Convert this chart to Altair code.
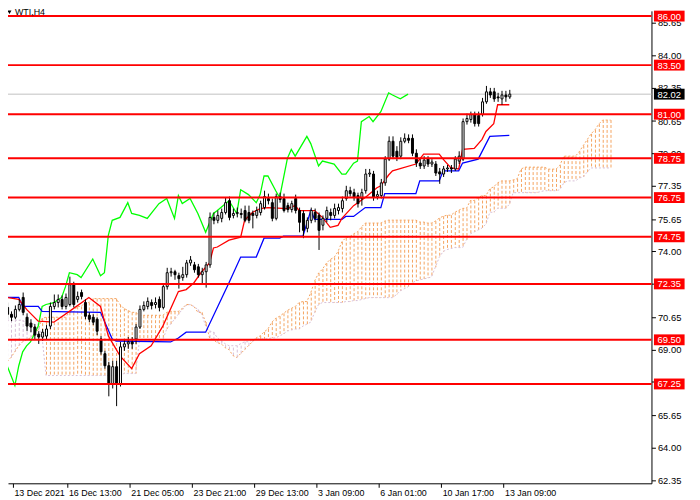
import pandas as pd
import altair as alt

# WTI H4 candles, bar 0 = first bar on the left (13 Dec 2021)
opens = [
    71.15, 70.80, 70.65, 71.05, 71.66, 70.65, 70.35, 70.15, 69.79, 69.64,
    69.69, 70.20, 71.20, 71.40, 71.56, 71.20, 71.30, 72.31, 71.56, 71.91,
    71.40, 70.75, 70.65, 70.55, 69.54, 68.79, 68.18, 67.27, 68.13, 67.27,
    69.14, 69.29, 69.39, 69.54, 70.15, 71.05, 71.20, 71.40, 71.30, 71.56,
    71.15, 72.21, 72.92, 72.97, 72.77, 72.67, 72.82, 73.42, 73.32, 73.22,
    72.82, 72.97, 73.32, 75.74, 75.59, 75.69, 75.99, 76.59, 75.84, 75.94,
    75.94, 76.09, 75.99, 75.94, 75.84, 75.99, 76.24, 76.70, 76.49, 75.69,
    76.80, 76.70, 76.34, 76.14, 76.70, 76.09, 75.94, 75.18, 75.59, 75.99,
    75.84, 75.34, 75.69, 75.99, 75.84, 76.09, 76.19, 76.70, 77.10, 77.00,
    76.85, 76.70, 77.10, 77.95, 77.95, 76.80, 76.85, 77.50, 78.71, 79.62,
    79.11, 78.86, 79.62, 79.77, 79.77, 79.01, 78.51, 78.36, 78.71, 78.46,
    78.46, 78.06, 77.95, 78.21, 78.26, 78.21, 78.61, 78.71, 80.62, 80.73,
    80.98, 80.93, 80.98, 81.63, 82.14, 82.14, 81.88, 81.78, 81.98, 81.88,
]
highs = [
    71.40, 70.95, 71.25, 71.56, 71.91, 70.85, 70.55, 70.30, 69.94, 70.05,
    70.25, 71.40, 71.81, 71.81, 71.76, 71.86, 72.72, 72.46, 71.96, 72.06,
    71.56, 70.90, 70.80, 70.65, 69.69, 68.94, 68.38, 68.43, 68.43, 69.39,
    69.54, 69.64, 69.64, 70.30, 71.25, 71.46, 71.66, 71.56, 71.66, 71.71,
    72.36, 73.17, 73.17, 73.07, 72.92, 73.22, 73.57, 73.77, 73.47, 73.37,
    73.17, 73.47, 75.99, 75.99, 76.09, 76.19, 76.75, 76.80, 76.19, 76.24,
    76.19, 76.34, 76.34, 76.09, 76.29, 76.59, 77.10, 76.95, 76.70, 76.95,
    77.00, 76.95, 76.49, 76.59, 76.90, 76.24, 76.09, 75.74, 76.24, 76.19,
    75.99, 75.84, 76.29, 76.19, 76.44, 76.44, 76.80, 77.35, 77.30, 77.20,
    77.00, 77.20, 78.21, 78.21, 78.11, 77.10, 77.70, 78.86, 79.87, 79.87,
    79.37, 79.82, 80.02, 79.97, 79.97, 79.21, 78.71, 78.86, 78.86, 78.71,
    78.61, 78.26, 78.36, 78.41, 78.41, 78.86, 79.11, 80.78, 81.03, 81.13,
    81.13, 81.13, 81.83, 82.44, 82.34, 82.34, 82.09, 82.19, 82.19, 82.24,
]
lows = [
    70.55, 70.45, 70.55, 70.95, 70.75, 69.94, 69.89, 69.54, 69.29, 69.44,
    69.54, 70.05, 71.05, 71.15, 71.05, 71.05, 71.20, 71.15, 71.40, 71.56,
    70.55, 70.40, 70.25, 69.74, 68.74, 68.03, 66.62, 67.02, 66.12, 67.12,
    68.94, 69.04, 69.04, 69.29, 70.05, 70.95, 71.05, 71.05, 71.10, 70.95,
    71.05, 72.06, 72.72, 72.56, 72.11, 72.51, 72.67, 73.27, 72.92, 72.67,
    72.31, 72.16, 73.17, 75.39, 75.44, 75.49, 75.89, 75.59, 75.69, 75.74,
    75.69, 75.49, 75.44, 75.18, 75.69, 75.84, 76.14, 76.40, 75.54, 75.59,
    76.49, 75.99, 75.99, 75.99, 75.94, 74.98, 74.68, 74.98, 75.44, 75.49,
    74.08, 75.08, 75.49, 75.59, 75.69, 75.89, 75.99, 76.59, 76.80, 76.59,
    76.24, 76.34, 76.95, 77.80, 76.59, 76.65, 76.70, 77.35, 78.61, 78.71,
    78.61, 78.71, 79.52, 79.52, 78.86, 78.31, 78.21, 78.21, 78.31, 78.31,
    77.85, 77.45, 77.80, 78.06, 78.00, 78.11, 78.46, 78.61, 80.47, 80.57,
    80.37, 80.37, 80.88, 81.53, 81.83, 81.63, 81.63, 81.48, 81.63, 81.78,
]
closes = [
    70.80, 70.65, 71.05, 71.30, 70.90, 70.20, 70.15, 69.74, 69.64, 69.89,
    70.05, 71.20, 71.40, 71.56, 71.20, 71.66, 72.31, 71.30, 71.71, 71.71,
    70.70, 70.55, 70.40, 69.94, 68.89, 68.18, 67.27, 68.13, 67.27, 69.14,
    69.29, 69.39, 69.29, 70.15, 71.05, 71.25, 71.46, 71.25, 71.40, 71.15,
    72.21, 72.92, 72.97, 72.82, 72.62, 72.82, 73.42, 73.57, 73.07, 72.82,
    72.97, 73.32, 75.74, 75.59, 75.84, 75.99, 76.49, 75.74, 75.94, 75.99,
    75.89, 75.59, 75.59, 75.84, 76.09, 76.44, 76.80, 76.59, 75.69, 76.80,
    76.65, 76.09, 76.14, 76.44, 76.09, 75.49, 75.08, 75.59, 76.09, 75.69,
    75.08, 75.69, 76.09, 75.84, 76.19, 76.24, 76.59, 77.10, 76.95, 76.75,
    76.44, 77.00, 77.95, 78.00, 76.75, 76.90, 77.50, 78.71, 79.62, 78.86,
    78.81, 79.62, 79.77, 79.67, 79.01, 78.51, 78.36, 78.66, 78.46, 78.56,
    78.00, 77.95, 78.21, 78.26, 78.21, 78.71, 78.86, 80.62, 80.78, 80.98,
    80.52, 80.52, 81.63, 82.14, 81.98, 81.78, 81.83, 81.98, 81.88, 82.02,
]

# Ichimoku lines, read as (bar, price) vertices
tenkan_bar = [0, 3, 5, 8, 12, 16, 21, 24, 26, 29, 32, 34, 37, 40, 44, 46, 48,
              50, 52, 53, 54, 57, 60, 61, 63, 65, 67, 72, 74, 75, 79, 81, 83,
              85, 86, 89, 92, 95, 96, 98, 99, 105, 107, 111, 112, 114, 116,
              117, 120, 122, 123, 125, 126, 129]
tenkan_val = [71.66, 71.56, 71.05, 70.45, 70.40, 70.95, 71.66, 71.20, 69.70,
              68.68, 68.03, 68.79, 69.19, 70.20, 71.96, 72.06, 72.41, 72.97,
              73.42, 74.18, 74.23, 74.58, 74.73, 75.59, 75.99, 76.19, 76.24,
              76.19, 76.34, 76.09, 76.09, 75.74, 75.23, 75.33, 75.69, 76.34,
              76.75, 77.25, 77.35, 77.90, 78.11, 78.46, 78.96, 78.96, 78.71,
              78.26, 78.21, 79.21, 79.26, 79.72, 80.12, 80.52, 81.48, 81.48]

kijun_bar = [0, 3, 4, 8, 9, 24, 27, 28, 42, 44, 46, 51, 57, 60, 64, 66, 70,
             71, 76, 78, 79, 86, 87, 89, 92, 96, 97, 105, 106, 111, 112, 116,
             117, 121, 124, 129]
kijun_val = [71.66, 71.66, 71.20, 71.20, 70.95, 70.90, 69.54, 69.44, 69.39,
             69.59, 69.89, 69.89, 72.41, 73.72, 73.72, 74.68, 74.68, 74.78,
             74.78, 76.09, 75.64, 75.64, 75.79, 75.79, 76.24, 76.24, 76.95,
             76.95, 77.60, 77.60, 78.11, 78.11, 78.51, 78.71, 79.87, 79.92]

chikou_bar = [0, 2, 3, 4, 5, 6, 8, 9, 10, 12, 14, 15, 16, 18, 19, 22, 24, 25,
              26, 27, 29, 31, 32, 34, 36, 39, 41, 43, 44, 45, 47, 49, 51, 53,
              54, 57, 59, 60, 62, 64, 65, 66, 67, 69, 70, 72, 73, 74, 77, 78,
              80, 81, 84, 86, 87, 89, 90, 91, 93, 94, 96, 98, 99, 101, 103]
chikou_val = [68.18, 67.17, 68.18, 68.89, 69.19, 69.39, 70.20, 71.20, 71.30,
              71.40, 71.66, 72.21, 72.92, 72.82, 72.67, 73.62, 72.77, 72.92,
              74.83, 75.59, 75.74, 76.49, 75.94, 75.84, 75.69, 76.44, 76.70,
              75.69, 76.85, 76.44, 76.70, 75.94, 74.98, 75.94, 76.09, 76.59,
              75.94, 77.15, 76.90, 76.49, 76.90, 77.85, 77.85, 77.10, 76.75,
              78.75, 79.20, 78.86, 79.87, 79.50, 78.36, 78.61, 78.46, 77.95,
              77.95, 78.50, 78.61, 80.62, 80.88, 80.62, 81.13, 82.09, 81.98,
              81.78, 82.02]

# Senkou spans, one value per bar (cloud runs 26 bars ahead)
span_a = [
    68.40, 68.60, 68.90, 69.20, 69.40, 69.50, 69.60, 69.80, 70.00, 70.60,
    70.65, 70.65, 70.65, 70.65, 70.65, 70.65, 70.90, 70.90, 71.20, 71.20,
    71.40, 71.40, 71.60, 71.60, 71.60, 71.60, 71.60, 71.60, 71.60, 71.30,
    71.10, 71.00, 70.90, 70.90, 70.75, 70.75, 70.75, 70.75, 70.75, 70.75,
    70.75, 70.90, 70.95, 70.95, 70.95, 71.10, 71.30, 71.30, 71.20, 70.90,
    70.90, 70.40, 69.60, 69.50, 69.35, 69.30, 69.10, 69.00, 68.70, 68.60,
    68.80, 69.00, 69.20, 69.40, 69.60, 69.70, 69.90, 70.05, 70.40, 70.60,
    70.70, 70.85, 71.00, 71.10, 71.20, 71.40, 71.45, 71.45, 71.90, 72.50,
    72.90, 73.10, 73.40, 73.60, 73.70, 74.00, 74.50, 74.70, 74.75, 74.90,
    75.00, 75.25, 75.45, 75.45, 75.45, 75.45, 75.45, 75.55, 75.60, 75.60,
    75.60, 75.60, 75.60, 75.60, 75.60, 75.60, 75.50, 75.50, 75.45, 75.45,
    75.55, 75.70, 75.80, 75.85, 75.85, 76.00, 76.10, 76.20, 76.20, 76.60,
    76.60, 76.75, 76.85, 76.85, 77.20, 77.30, 77.50, 77.60, 77.60, 77.60,
    77.65, 77.70, 78.20, 78.30, 78.30, 78.30, 78.30, 78.30, 78.30, 78.20,
    78.20, 78.20, 78.40, 78.86, 78.86, 78.86, 78.86, 79.10, 79.40, 79.70,
    80.00, 80.20, 80.50, 80.70, 80.70, 80.70,
]
span_b = [
    70.50, 70.50, 70.50, 70.50, 70.50, 70.30, 70.30, 70.30, 70.30, 69.60,
    67.68, 67.68, 67.68, 67.68, 67.68, 67.68, 67.68, 67.68, 67.68, 67.68,
    67.68, 67.68, 67.68, 67.68, 67.68, 67.68, 67.68, 67.68, 67.68, 67.68,
    67.78, 67.78, 67.78, 67.78, 69.50, 69.50, 69.50, 69.50, 69.50, 69.50,
    69.50, 70.05, 70.30, 70.55, 70.80, 71.05, 71.25, 71.30, 71.20, 71.05,
    70.80, 70.20, 69.95, 69.90, 69.60, 69.45, 69.30, 69.20, 69.20, 69.20,
    69.30, 69.40, 69.40, 69.50, 69.55, 69.55, 69.55, 69.55, 69.60, 69.60,
    69.70, 69.80, 69.95, 70.00, 70.05, 70.05, 70.20, 70.30, 70.40, 70.90,
    71.30, 71.40, 71.40, 71.40, 71.40, 71.40, 71.40, 71.45, 71.45, 71.50,
    71.50, 71.55, 71.60, 71.65, 71.65, 71.65, 71.65, 71.65, 71.65, 71.65,
    71.80, 72.00, 72.10, 72.20, 72.40, 72.50, 72.55, 72.60, 72.65, 72.70,
    73.20, 73.70, 74.00, 74.10, 74.15, 74.20, 74.20, 74.20, 74.60, 74.90,
    75.00, 75.10, 75.20, 75.40, 76.00, 76.00, 76.20, 76.20, 76.20, 76.40,
    77.00, 77.00, 77.00, 77.00, 77.00, 77.00, 77.00, 77.05, 77.10, 77.10,
    77.10, 77.10, 77.15, 77.50, 77.60, 77.60, 77.60, 77.75, 77.80, 78.05,
    78.26, 78.26, 78.26, 78.26, 78.26, 78.26,
]

levels = [86.00, 83.50, 81.00, 78.75, 76.75, 74.75, 72.35, 69.50, 67.25]
bid = [82.02]
price_ticks = [62.35, 64.00, 65.65, 67.35, 69.00, 70.65, 72.35, 74.00, 75.65,
               77.35, 79.00, 80.65, 82.35, 84.00, 85.65]
date_ticks = [1.5, 15.5, 31.5, 47.5, 63.5, 79.5, 95.5, 111.5, 127.5]
date_labels = ["13 Dec 2021", "16 Dec 13:00", "21 Dec 05:00", "23 Dec 21:00",
               "29 Dec 13:00", "3 Jan 09:00", "6 Jan 01:00", "10 Jan 17:00",
               "13 Jan 09:00"]
symbol = ["WTI,H4"]

W, H = 651, 478
FONT = "Liberation Sans"

candles = pd.DataFrame({"bar": range(len(closes)), "open": opens,
                        "high": highs, "low": lows, "close": closes})
cloud = pd.DataFrame({"bar": range(len(span_a)), "a": span_a, "b": span_b})
cloud["kind"] = ["up" if a >= b else "down" for a, b in zip(span_a, span_b)]
tenkan = pd.DataFrame({"bar": tenkan_bar, "v": tenkan_val})
kijun = pd.DataFrame({"bar": kijun_bar, "v": kijun_val})
chikou = pd.DataFrame({"bar": chikou_bar, "v": chikou_val})
lv = pd.DataFrame({"price": levels})
bd = pd.DataFrame({"price": bid})

xs = alt.Scale(domain=[1.5, 1.5 + W / 4], nice=False, zero=False)
ys = alt.Scale(domain=[62.186, 86.267], nice=False, zero=False)

label_arr = "[" + ",".join("'%s'" % s for s in date_labels) + "]"
x_axis = alt.Axis(values=date_ticks, labelExpr=label_arr + "[round((datum.value - 1.5) / 16)]",
                  orient="bottom", title=None, grid=False, tickSize=4,
                  labelAlign="left", labelBaseline="top", labelOffset=1,
                  labelPadding=1, labelFlush=False, labelOverlap=False,
                  labelFont=FONT, labelFontSize=9, labelColor="black",
                  domainColor="black", tickColor="black")
y_axis = alt.Axis(values=price_ticks, format=".2f", orient="right", title=None,
                  grid=False, tickSize=4, labelPadding=2, labelFlush=False,
                  labelOverlap=False, labelFont=FONT, labelFontSize=9.5,
                  labelColor="black", domainColor="black", tickColor="black")


def X(field):
    return alt.X(field, scale=xs, axis=x_axis)


def Y(field):
    return alt.Y(field, scale=ys, axis=y_axis)


hatch = alt.Chart(cloud).mark_rule(strokeDash=[3, 2], strokeWidth=1, clip=True, xOffset=0.5).encode(
    x=X("bar:Q"), y=Y("a:Q"), y2="b:Q",
    color=alt.Color("kind:N", scale=alt.Scale(domain=["up", "down"], range=["#F4A460", "#D8BFD8"]), legend=None),
)
edge_a = alt.Chart(cloud).mark_line(color="#F4A460", strokeDash=[2, 2], strokeWidth=1, clip=True).encode(
    x=X("bar:Q"), y=Y("a:Q"))
edge_b = alt.Chart(cloud).mark_line(color="#D8BFD8", strokeDash=[2, 2], strokeWidth=1, clip=True).encode(
    x=X("bar:Q"), y=Y("b:Q"))

bid_line = alt.Chart(bd).mark_rule(color="#C0C0C0", strokeWidth=1).encode(
    y=Y("price:Q"), x=alt.value(0), x2=alt.value(W))


def ichimoku_line(df, colour):
    return alt.Chart(df).mark_line(color=colour, strokeWidth=1.3, clip=True).encode(
        x=X("bar:Q"), y=Y("v:Q"))


wicks = alt.Chart(candles).mark_rule(color="black", strokeWidth=1, clip=True, xOffset=0.5).encode(
    x=X("bar:Q"), y=Y("low:Q"), y2="high:Q")
bodies = alt.Chart(candles).mark_bar(width=2, stroke="black", strokeWidth=1, clip=True, xOffset=0.5).encode(
    x=X("bar:Q"), y=Y("open:Q"), y2="close:Q",
    fill=alt.condition("datum.close >= datum.open", alt.value("white"), alt.value("black")),
)

level_lines = alt.Chart(lv).mark_rule(color="#FF0000", strokeWidth=2).encode(
    y=Y("price:Q"), x=alt.value(0), x2=alt.value(W))
level_box = alt.Chart(lv).mark_rule(color="#FF0000", strokeWidth=11).encode(
    y=Y("price:Q"), x=alt.value(W + 2.5), x2=alt.value(W + 33.5))
level_text = alt.Chart(lv).mark_text(color="white", font=FONT, fontSize=9.5, align="center",
                                     baseline="middle", dy=0.5).encode(
    y=Y("price:Q"), x=alt.value(W + 18), text=alt.Text("price:Q", format=".2f"))
bid_box = alt.Chart(bd).mark_rule(color="black", strokeWidth=11).encode(
    y=Y("price:Q"), x=alt.value(W + 2.5), x2=alt.value(W + 33.5))
bid_text = alt.Chart(bd).mark_text(color="white", font=FONT, fontSize=9.5, align="center",
                                   baseline="middle", dy=0.5).encode(
    y=Y("price:Q"), x=alt.value(W + 18), text=alt.Text("price:Q", format=".2f"))

sym = pd.DataFrame({"label": symbol})
title_text = alt.Chart(sym).mark_text(color="black", font=FONT, fontSize=9, align="left",
                                      baseline="alphabetic").encode(
    x=alt.value(7), y=alt.value(4.5), text="label:N")
title_tri = alt.Chart(sym).mark_point(shape="triangle-down", filled=True, size=16,
                                      color="black", opacity=1).encode(
    x=alt.value(1.5), y=alt.value(1.5))

chart = alt.layer(
    hatch, edge_a, edge_b, bid_line,
    ichimoku_line(chikou, "#00FF00"),
    ichimoku_line(kijun, "#0000FF"),
    ichimoku_line(tenkan, "#FF0000"),
    wicks, bodies,
    level_lines, level_box, level_text, bid_box, bid_text,
    title_text, title_tri,
).properties(
    width=W, height=H,
    autosize=alt.AutoSizeParams(type="none"),
    padding={"left": 0, "top": 0, "right": 41, "bottom": 14},
    background="white",
).configure_view(strokeWidth=0)

chart.save("out.html", embed_options={"renderer": "svg", "actions": False})
